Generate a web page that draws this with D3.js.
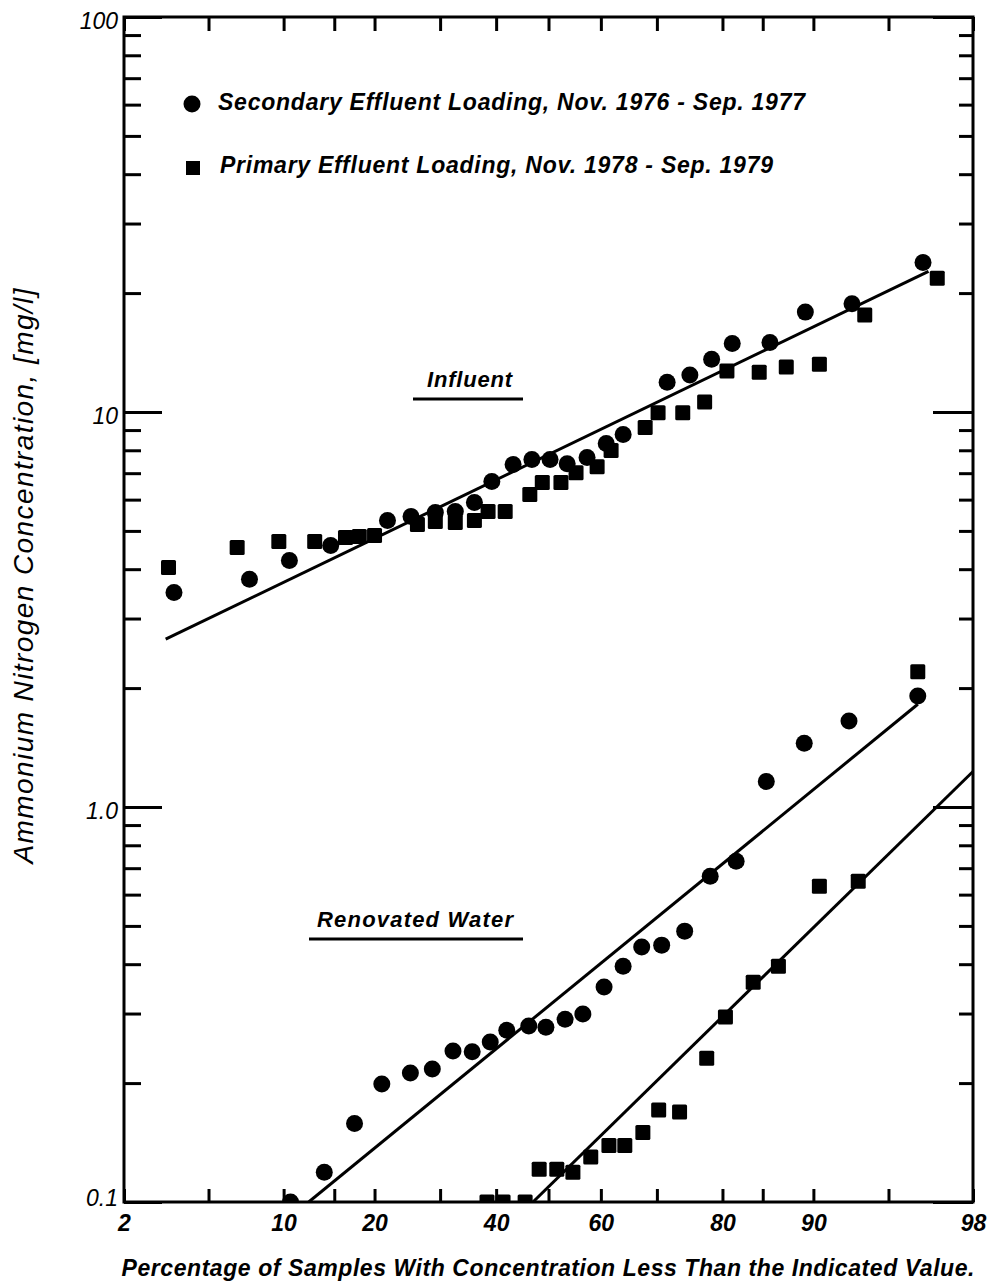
<!DOCTYPE html>
<html>
<head>
<meta charset="utf-8">
<script src="https://cdn.jsdelivr.net/npm/d3@7"></script>
<style>
  body { margin: 0; background: #fff; }
  svg { display: block; font-family: "Liberation Sans", Arial, sans-serif; }
</style>
</head>
<body>
<svg id="chart" width="987" height="1285"></svg>
<script>
// cumulative percentage vs ammonium nitrogen [mg/l]
var infSecondary = [[3.5,3.49],[7.4,3.77],[10.5,4.21],[14.6,4.59],[21.8,5.31],[25.3,5.44],[29.2,5.57],[32.6,5.60],
  [36.0,5.90],[39.2,6.67],[43.2,7.36],[46.8,7.58],[50.3,7.58],[53.6,7.40],[57.4,7.67],[61.0,8.32],[64.1,8.77],
  [71.7,11.9],[75.3,12.4],[78.5,13.6],[81.3,14.9],[85.8,15.0],[89.3,17.9],[92.9,18.8],[96.5,23.9]];
var infPrimary = [[3.3,4.04],[6.6,4.54],[9.6,4.70],[12.9,4.70],[16.3,4.81],[18.0,4.84],[20.0,4.87],[26.3,5.19],
  [29.2,5.28],[32.6,5.25],[36.0,5.31],[38.5,5.60],[41.7,5.60],[46.4,6.18],[48.8,6.63],[52.4,6.63],[55.3,7.02],
  [59.3,7.27],[61.9,7.99],[68.0,9.13],[70.2,9.96],[74.2,9.96],[77.5,10.6],[80.6,12.7],[84.6,12.6],[87.5,13.0],
  [90.5,13.2],[93.7,17.6],[97.0,21.8]];
var renSecondary = [[10.6,0.10],[13.9,0.119],[17.4,0.158],[21.0,0.199],[25.2,0.212],[28.7,0.217],[32.2,0.241],
  [35.6,0.240],[38.9,0.254],[42.0,0.272],[46.2,0.279],[49.5,0.277],[53.2,0.290],[56.6,0.299],[60.6,0.350],
  [64.1,0.395],[67.4,0.442],[70.8,0.447],[74.5,0.485],[78.3,0.668],[81.8,0.729],[85.4,1.16],[89.2,1.45],
  [92.7,1.65],[96.3,1.91]];
var renPrimary = [[38.3,0.10],[41.3,0.10],[45.5,0.10],[48.2,0.121],[51.6,0.121],[54.7,0.119],[58.1,0.130],
  [61.5,0.139],[64.4,0.139],[67.6,0.150],[70.3,0.171],[73.7,0.169],[77.8,0.231],[80.4,0.294],[83.9,0.360],
  [86.7,0.395],[90.5,0.630],[93.3,0.649],[96.3,2.20]];

// fitted lines (end points)
var influentFit = [[3.2,2.66],[96.7,22.7]];
var renSecondaryFit = [[12.3,0.1],[96.3,1.82]];
var renPrimaryFit = [[47.0,0.1],[98,1.23]];

var xTicks = [2,5,10,15,20,30,40,50,60,70,80,85,90,95,98];
var xLabels = [2,10,20,40,60,80,90,98];
var yMajor = [0.1,1,10,100];
var yLabels = ["0.1","1.0","10","100"];
var yMinor = [0.2,0.3,0.4,0.5,0.6,0.7,0.8,0.9,2,3,4,5,6,7,8,9,20,30,40,50,60,70,80,90];

var legendNames = ["Secondary Effluent Loading, Nov. 1976 - Sep. 1977",
                   "Primary Effluent Loading, Nov. 1978 - Sep. 1979"];

// inverse normal cdf (Acklam)
function probit(p) {
  var a = [-39.69683028665376, 220.9460984245205, -275.9285104469687, 138.3577518672690, -30.66479806614716, 2.506628277416870];
  var b = [-54.47609879822406, 161.5858368580409, -155.6989798598866, 66.80131188771972, -13.28068155288572];
  var c = [-0.007784894002430293, -0.3223964580411365, -2.400758277161838, -2.549732539343734, 4.374664141464968, 2.938163982698783];
  var d = [0.007784695709041462, 0.3224671290700398, 2.445134137142996, 3.754408661907416];
  var plow = 0.02425, q, r;
  if (p < plow) {
    q = Math.sqrt(-2 * Math.log(p));
    return (((((c[0]*q+c[1])*q+c[2])*q+c[3])*q+c[4])*q+c[5]) / ((((d[0]*q+d[1])*q+d[2])*q+d[3])*q+1);
  }
  if (p > 1 - plow) {
    q = Math.sqrt(-2 * Math.log(1 - p));
    return -(((((c[0]*q+c[1])*q+c[2])*q+c[3])*q+c[4])*q+c[5]) / ((((d[0]*q+d[1])*q+d[2])*q+d[3])*q+1);
  }
  q = p - 0.5; r = q * q;
  return (((((a[0]*r+a[1])*r+a[2])*r+a[3])*r+a[4])*r+a[5])*q / (((((b[0]*r+b[1])*r+b[2])*r+b[3])*r+b[4])*r+1);
}

var plotL = 124, plotR = 973, plotT = 17, plotB = 1202;
var svg = d3.select("#chart");

var x = d3.scaleLinear().domain([probit(0.02), probit(0.98)]).range([plotL, plotR]);
var y = d3.scaleLog().domain([0.1, 100]).range([plotB, plotT]);
var px = function(p) { return x(probit(p / 100)); };

svg.append("clipPath").attr("id", "clip")
  .append("rect").attr("x", plotL).attr("y", plotT).attr("width", plotR - plotL).attr("height", plotB - plotT);

function styleAxis(g) {
  g.select(".domain").remove();
  g.attr("font-family", null).attr("font-size", null);
  g.selectAll(".tick line").attr("stroke", "#000").attr("stroke-width", 3);
}

// x axes (normal probability scale)
var xTickVals = xTicks.map(function(p) { return probit(p / 100); });
svg.append("g").attr("transform", "translate(0," + plotB + ")")
  .call(d3.axisBottom(x).tickValues(xTickVals).tickSize(-13).tickPadding(13)
    .tickFormat(function(d, i) { return xLabels.indexOf(xTicks[i]) >= 0 ? xTicks[i] : ""; }))
  .call(styleAxis)
  .selectAll("text").attr("font-size", 23).attr("font-weight", "bold").attr("font-style", "italic").attr("fill", "#000");
svg.append("g").attr("transform", "translate(0," + plotT + ")")
  .call(d3.axisTop(x).tickValues(xTickVals).tickSize(-14).tickFormat(""))
  .call(styleAxis);

// y axes (log)
svg.append("g").attr("transform", "translate(" + plotL + ",0)")
  .call(d3.axisLeft(y).tickValues(yMinor).tickSize(-17).tickFormat(""))
  .call(styleAxis);
svg.append("g").attr("transform", "translate(" + plotL + ",0)")
  .call(d3.axisLeft(y).tickValues(yMajor).tickSize(-38).tickPadding(6)
    .tickFormat(function(d, i) { return yLabels[i]; }))
  .call(styleAxis)
  .selectAll("text").attr("font-size", 23).attr("font-style", "italic").attr("fill", "#000")
  .attr("dy", function(d) { return d === 0.1 ? "0.15em" : "0.5em"; });
svg.append("g").attr("transform", "translate(" + plotR + ",0)")
  .call(d3.axisRight(y).tickValues(yMinor).tickSize(-14).tickFormat(""))
  .call(styleAxis);
svg.append("g").attr("transform", "translate(" + plotR + ",0)")
  .call(d3.axisRight(y).tickValues(yMajor).tickSize(-40).tickFormat(""))
  .call(styleAxis);

svg.append("rect").attr("x", plotL).attr("y", plotT).attr("width", plotR - plotL).attr("height", plotB - plotT)
  .attr("fill", "none").attr("stroke", "#000").attr("stroke-width", 3);

// fitted lines
var line = d3.line().x(function(d) { return px(d[0]); }).y(function(d) { return y(d[1]); });
var plot = svg.append("g").attr("clip-path", "url(#clip)");
[influentFit, renSecondaryFit, renPrimaryFit].forEach(function(f) {
  plot.append("path").datum(f).attr("d", line).attr("fill", "none").attr("stroke", "#000").attr("stroke-width", 3);
});

// points
var sq = 15;
[infPrimary, renPrimary].forEach(function(s) {
  plot.selectAll(null).data(s).enter().append("rect")
    .attr("x", function(d) { return px(d[0]) - sq / 2; })
    .attr("y", function(d) { return y(d[1]) - sq / 2; })
    .attr("width", sq).attr("height", sq).attr("rx", 1.5).attr("fill", "#000");
});
[infSecondary, renSecondary].forEach(function(s) {
  plot.selectAll(null).data(s).enter().append("circle")
    .attr("cx", function(d) { return px(d[0]); })
    .attr("cy", function(d) { return y(d[1]); })
    .attr("r", 8.5).attr("fill", "#000");
});

// legend
svg.append("circle").attr("cx", 192).attr("cy", 104).attr("r", 8.5).attr("fill", "#000");
svg.append("rect").attr("x", 186).attr("y", 161).attr("width", 14).attr("height", 14).attr("fill", "#000");
svg.selectAll(".leg").data(legendNames).enter().append("text")
  .attr("x", function(d, i) { return i ? 220 : 218; })
  .attr("y", function(d, i) { return i ? 173 : 110; })
  .attr("textLength", function(d, i) { return i ? 553 : 587; })
  .attr("lengthAdjust", "spacing")
  .attr("font-size", 23).attr("font-weight", "bold").attr("font-style", "italic")
  .text(function(d) { return d; });

// curve labels
svg.append("text").attr("x", 427).attr("y", 387).attr("textLength", 85).attr("lengthAdjust", "spacing")
  .attr("font-size", 22).attr("font-weight", "bold").attr("font-style", "italic").text("Influent");
svg.append("line").attr("x1", 413).attr("x2", 523).attr("y1", 399).attr("y2", 399).attr("stroke", "#000").attr("stroke-width", 3);
svg.append("text").attr("x", 317).attr("y", 927).attr("textLength", 196).attr("lengthAdjust", "spacing")
  .attr("font-size", 22).attr("font-weight", "bold").attr("font-style", "italic").text("Renovated Water");
svg.append("line").attr("x1", 309).attr("x2", 523).attr("y1", 939).attr("y2", 939).attr("stroke", "#000").attr("stroke-width", 3);

// axis titles
svg.append("text").attr("text-anchor", "middle")
  .attr("transform", "translate(33,576) rotate(-90)")
  .attr("textLength", 575).attr("lengthAdjust", "spacing")
  .attr("font-size", 28).attr("font-style", "italic")
  .text("Ammonium Nitrogen Concentration, [mg/l]");
svg.append("text").attr("text-anchor", "middle").attr("x", 548).attr("y", 1276)
  .attr("textLength", 853).attr("lengthAdjust", "spacing")
  .attr("font-size", 23).attr("font-weight", "bold").attr("font-style", "italic")
  .text("Percentage of Samples With Concentration Less Than the Indicated Value.");
</script>
</body>
</html>
